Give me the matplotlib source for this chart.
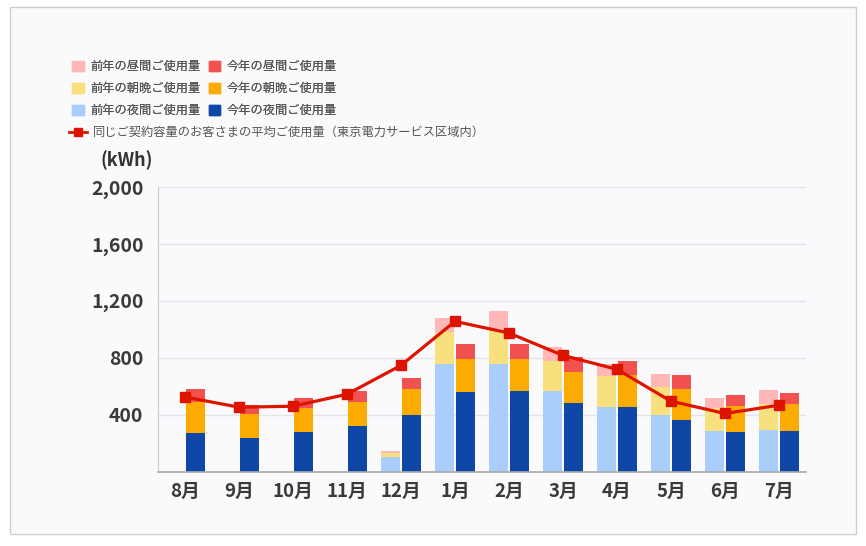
import numpy as np
import matplotlib
matplotlib.use("Agg")
import matplotlib.pyplot as plt
from matplotlib.patches import Patch, Rectangle
from matplotlib.lines import Line2D

plt.rcParams['font.family'] = ['Noto Sans CJK JP', 'DejaVu Sans']

# ---- データ（kWh）----
months = ["8月", "9月", "10月", "11月", "12月", "1月", "2月", "3月", "4月", "5月", "6月", "7月"]

prev_night   = [0, 0, 0, 0, 105, 759, 759, 565, 453, 397, 283, 292]
prev_morning = [0, 0, 0, 0, 24, 224, 234, 210, 222, 199, 161, 187]
prev_day     = [0, 0, 0, 0, 14, 96, 135, 101, 84, 88, 77, 93]

this_night   = [269, 236, 276, 318, 397, 561, 565, 486, 453, 362, 280, 287]
this_morning = [221, 166, 175, 172, 182, 231, 227, 215, 225, 217, 180, 187]
this_day     = [94, 70, 70, 75, 82, 107, 107, 105, 100, 101, 79, 77]

average = [525, 453, 460, 544, 747, 1056, 974, 817, 719, 495, 409, 467]

yticks = [0, 400, 800, 1200, 1600, 2000]
ytick_labels = ["", "400", "800", "1,200", "1,600", "2,000"]

# ---- 色 ----
C_PREV_DAY = "#ffb7b7"
C_THIS_DAY = "#f2524f"
C_PREV_MORN = "#f9e07f"
C_THIS_MORN = "#fcab00"
C_PREV_NIGHT = "#aacefc"
C_THIS_NIGHT = "#0f47a6"
C_LINE = "#dd1500"
BG = "#faf9fc"

fig = plt.figure(figsize=(8.66, 5.46), dpi=100)
fig.patch.set_facecolor("white")
fig.patches.append(Rectangle((10 / 866, 12 / 546), 846 / 866, 527 / 546,
                             transform=fig.transFigure, facecolor=BG,
                             edgecolor="#cfcfcf", linewidth=1, zorder=-10))

ax = fig.add_axes([158 / 866, 74.3 / 546, 648 / 866, 284.7 / 546])
ax.set_zorder(1)
ax.patch.set_alpha(0)

x = np.arange(len(months))
w = 0.35
off = 0.195

pn = np.array(prev_night); pm = np.array(prev_morning); pd_ = np.array(prev_day)
tn = np.array(this_night); tm = np.array(this_morning); td = np.array(this_day)

ax.bar(x - off, pn, w, color=C_PREV_NIGHT, zorder=2)
ax.bar(x - off, pm, w, bottom=pn, color=C_PREV_MORN, zorder=2)
ax.bar(x - off, pd_, w, bottom=pn + pm, color=C_PREV_DAY, zorder=2)

ax.bar(x + off, tn, w, color=C_THIS_NIGHT, zorder=2)
ax.bar(x + off, tm, w, bottom=tn, color=C_THIS_MORN, zorder=2)
ax.bar(x + off, td, w, bottom=tn + tm, color=C_THIS_DAY, zorder=2)

ax.plot(x, average, color=C_LINE, linewidth=2.3, marker="s", markersize=7,
        zorder=4)

ax.set_xlim(-0.5, len(months) - 0.5)
ax.set_ylim(0, 2000)
ax.set_yticks(yticks)
ax.set_yticklabels(ytick_labels)
ax.set_xticks(x)
ax.set_xticklabels(months)
ax.grid(axis="y", color="#e4e3e8", linewidth=1, zorder=0)
ax.tick_params(axis="both", length=0, colors="#333333", labelsize=13.5)
ax.tick_params(axis="y", pad=10.5, labelsize=14)
ax.tick_params(axis="x", pad=7)
for lab in ax.get_xticklabels() + ax.get_yticklabels():
    lab.set_fontweight("bold")
    lab.set_color("#3a3a3a")

for s in ["top", "right"]:
    ax.spines[s].set_visible(False)
ax.spines["left"].set_color("#cccccc")
ax.spines["bottom"].set_color("#aaaaaa")
ax.spines["bottom"].set_linewidth(1.2)

fig.text(101 / 866, 1 - 160 / 546, "(kWh)", fontsize=13, fontweight="bold",
         color="#333333", va="center", ha="left")

# ---- 凡例 ----
bar_handles = [
    Patch(color=C_PREV_DAY, label="前年の昼間ご使用量"),
    Patch(color=C_PREV_MORN, label="前年の朝晩ご使用量"),
    Patch(color=C_PREV_NIGHT, label="前年の夜間ご使用量"),
    Patch(color=C_THIS_DAY, label="今年の昼間ご使用量"),
    Patch(color=C_THIS_MORN, label="今年の朝晩ご使用量"),
    Patch(color=C_THIS_NIGHT, label="今年の夜間ご使用量"),
]
leg1 = fig.legend(handles=bar_handles, ncol=2, loc="upper left",
                  bbox_to_anchor=(66 / 866, 1 - 54 / 546), frameon=False,
                  fontsize=8.8, handlelength=0.95, handleheight=0.95,
                  handletextpad=0.55, labelspacing=0.74, columnspacing=0.65,
                  labelcolor="#555555", borderpad=0)
line_handle = [Line2D([0], [0], color=C_LINE, linewidth=2, marker="s",
                      markersize=5.5, label="同じご契約容量のお客さまの平均ご使用量（東京電力サービス区域内）")]
leg2 = fig.legend(handles=line_handle, loc="upper left",
                  bbox_to_anchor=(63 / 866, 1 - 120 / 546), frameon=False,
                  fontsize=8.8, handlelength=1.5, handletextpad=0.45,
                  labelcolor="#555555", borderpad=0)
fig.add_artist(leg1)

fig.savefig("out.png", dpi=100, facecolor="white")
